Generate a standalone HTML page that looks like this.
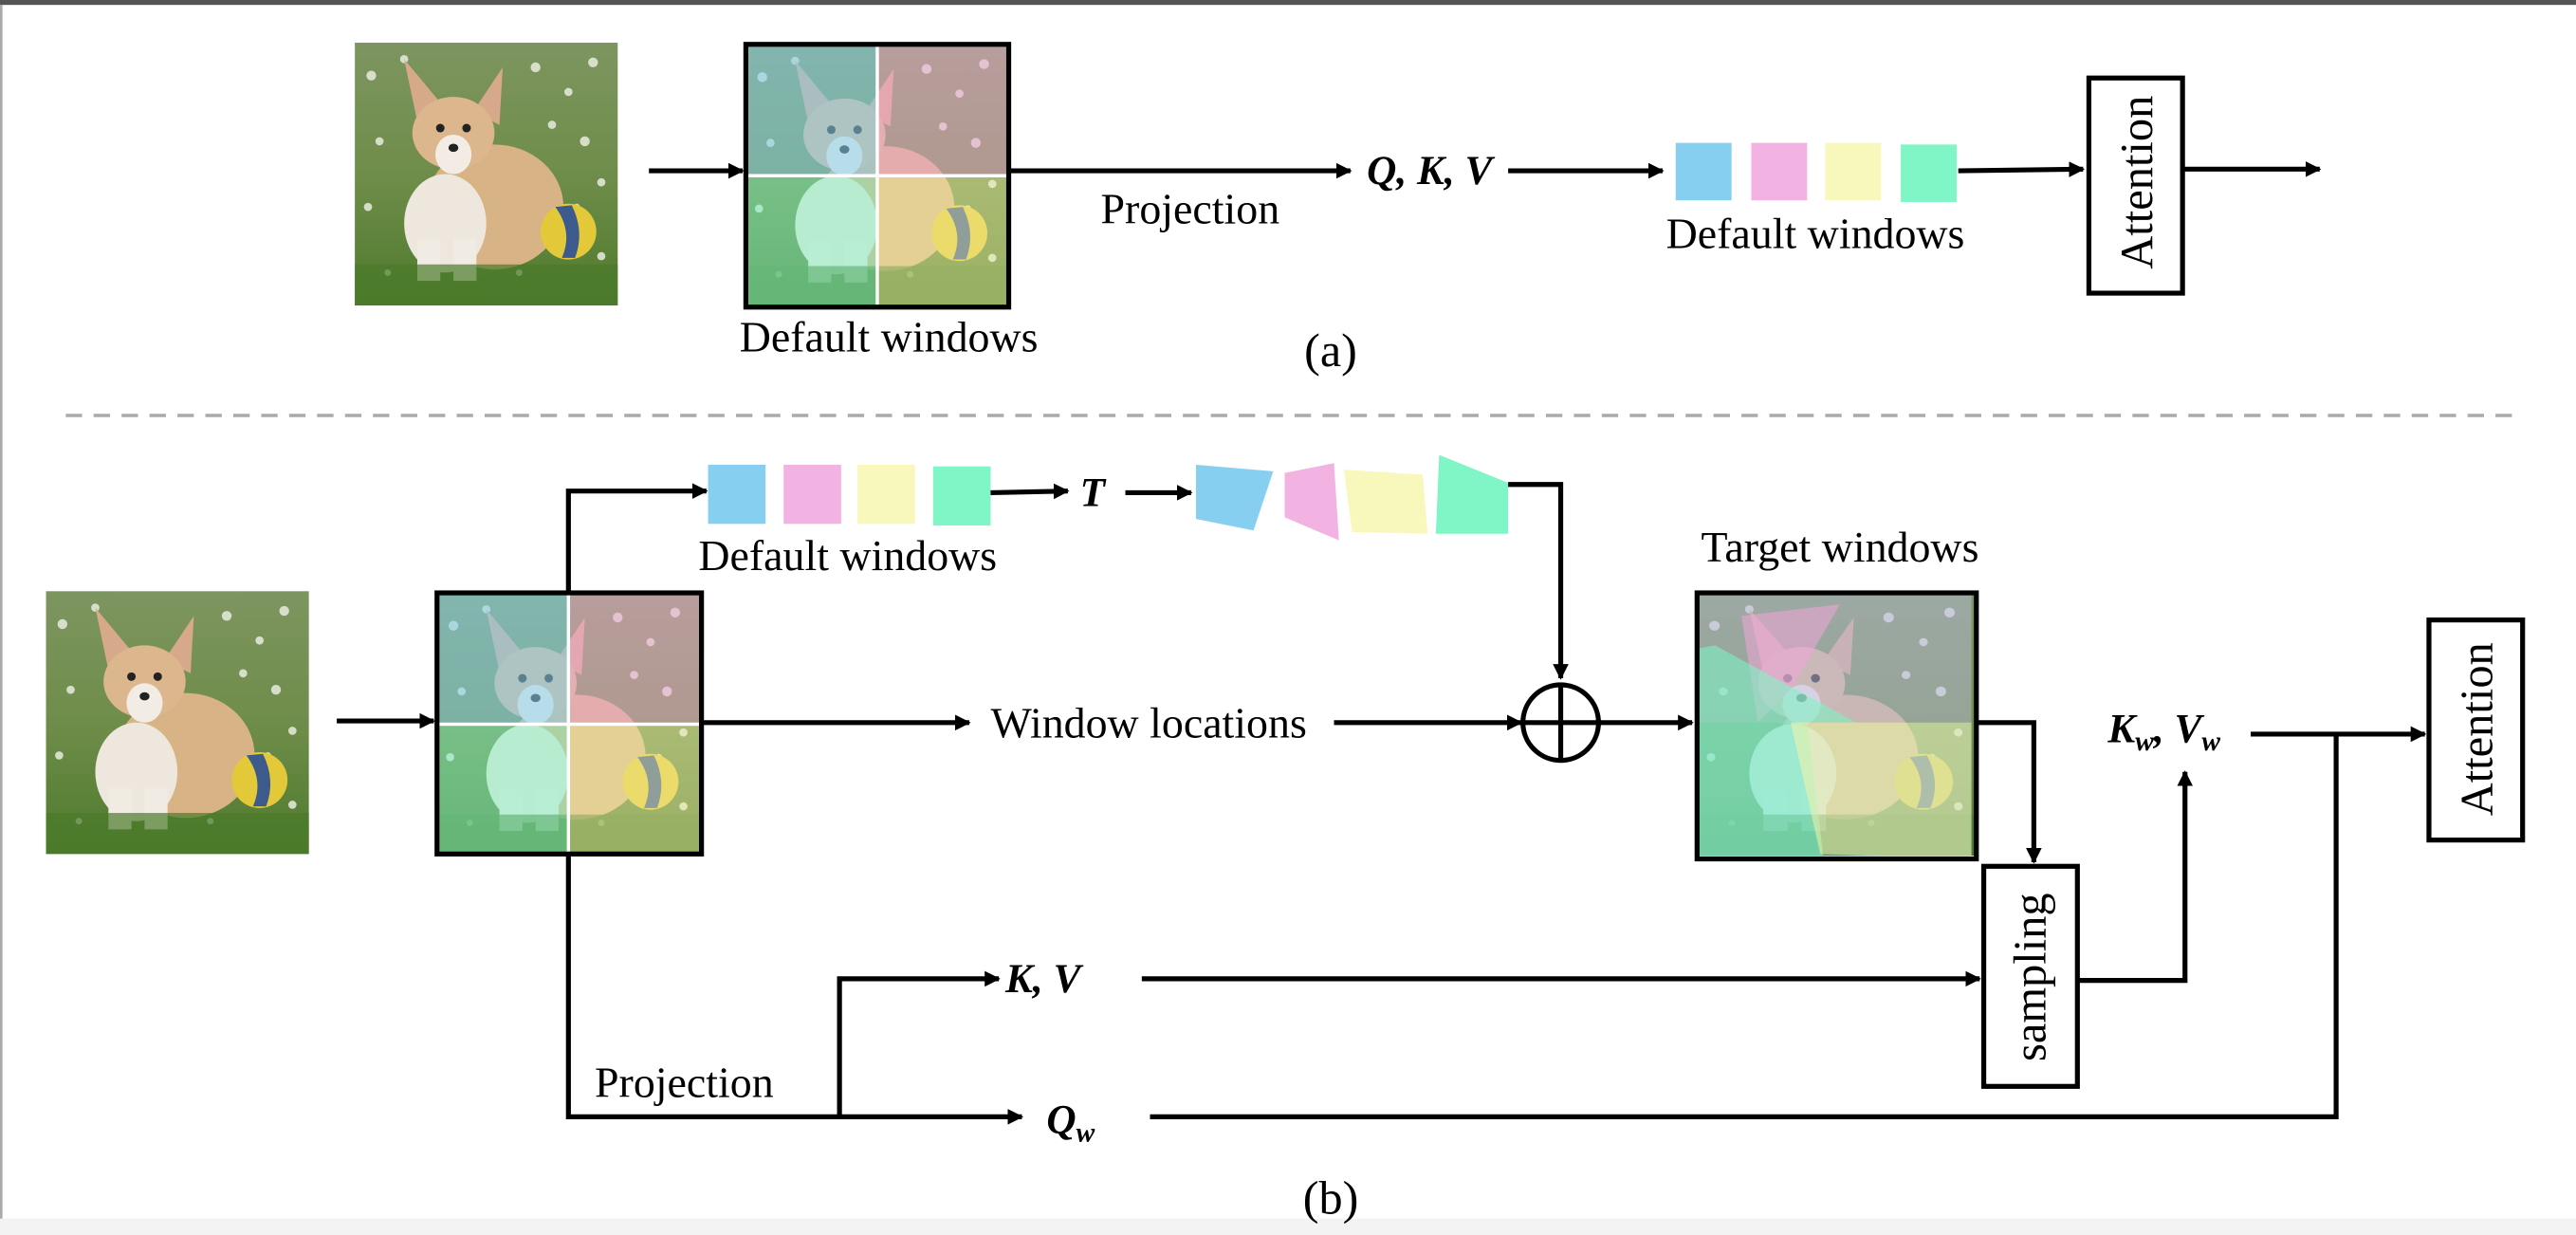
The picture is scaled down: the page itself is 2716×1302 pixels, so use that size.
<!DOCTYPE html>
<html><head><meta charset="utf-8"><style>
html,body{margin:0;padding:0;background:#fff;}
svg{display:block;}
text{font-family:"Liberation Serif",serif;fill:#000;}
.m{font-weight:bold;font-style:italic;}
</style></head><body>
<svg width="2716" height="1302" viewBox="0 0 1568 752" preserveAspectRatio="none" xmlns="http://www.w3.org/2000/svg">
<defs>
<marker id="a" viewBox="0 0 10 10" refX="9" refY="5" markerWidth="3.2" markerHeight="3.2" orient="auto"><path d="M0,0 L10,5 L0,10 z" fill="#000"/></marker>
<linearGradient id="bg" x1="0" y1="0" x2="0" y2="1"><stop offset="0" stop-color="#7d9560"/><stop offset="0.5" stop-color="#6f8d4a"/><stop offset="1" stop-color="#4e7a2c"/></linearGradient>
<g id="dog">
<rect x="0" y="0" width="160" height="160" fill="url(#bg)"/>
<g fill="#e8ece0" opacity="0.85">
<circle cx="10" cy="20" r="3"/><circle cx="30" cy="10" r="2.5"/><circle cx="110" cy="15" r="3"/><circle cx="130" cy="30" r="2.5"/><circle cx="145" cy="12" r="3"/><circle cx="120" cy="50" r="2.5"/><circle cx="140" cy="60" r="3"/><circle cx="150" cy="85" r="2.5"/><circle cx="105" cy="70" r="2"/><circle cx="15" cy="60" r="2.5"/><circle cx="8" cy="100" r="2.5"/><circle cx="150" cy="130" r="2.5"/><circle cx="20" cy="140" r="2"/><circle cx="100" cy="140" r="2"/><circle cx="135" cy="100" r="2"/>
</g>
<path d="M30,10 L38,48 L55,40 z" fill="#d6a98a"/>
<path d="M90,15 L72,42 L88,50 z" fill="#d6a98a"/>
<ellipse cx="85" cy="100" rx="42" ry="38" fill="#d8b385"/>
<ellipse cx="60" cy="55" rx="25" ry="22" fill="#dcb68c"/>
<ellipse cx="60" cy="68" rx="11" ry="12" fill="#f2ece4"/>
<ellipse cx="55" cy="110" rx="25" ry="30" fill="#eee7dd"/>
<rect x="38" y="120" width="14" height="25" fill="#f0ebe3"/><rect x="60" y="120" width="14" height="25" fill="#f0ebe3"/>
<circle cx="52" cy="52" r="2.6" fill="#222"/><circle cx="68" cy="52" r="2.6" fill="#222"/><ellipse cx="60" cy="64" rx="3" ry="2.5" fill="#222"/>
<circle cx="130" cy="115" r="17" fill="#e3c93a"/>
<path d="M122,100 Q133,115 126,131 L134,131 Q140,115 132,99 z" fill="#3c5a8c"/>
<rect x="0" y="135" width="160" height="25" fill="#4a7a2a" opacity="0.7"/>
</g>
<g id="win">
<use href="#dog"/>
<rect x="0" y="0" width="80" height="80" fill="#87cfee" opacity="0.55"/>
<rect x="80" y="0" width="80" height="80" fill="#f2a6d8" opacity="0.5"/>
<rect x="0" y="80" width="80" height="80" fill="#7ff2c4" opacity="0.5"/>
<rect x="80" y="80" width="80" height="80" fill="#f5f2a8" opacity="0.45"/>
<line x1="80" y1="0" x2="80" y2="160" stroke="#fff" stroke-width="2"/>
<line x1="0" y1="80" x2="160" y2="80" stroke="#fff" stroke-width="2"/>
</g>
</defs>
<rect x="0" y="0" width="1568" height="3" fill="#555"/>
<rect x="0" y="3" width="1.5" height="740" fill="#aaa"/>
<rect x="0" y="742" width="1568" height="10" fill="#f3f3f3"/>

<!-- (a) -->
<use href="#dog" transform="translate(216,26)"/>
<line x1="395" y1="104" x2="452" y2="104" stroke="#000" stroke-width="3" marker-end="url(#a)"/>
<use href="#win" transform="translate(454,27)"/>
<rect x="454" y="27" width="160" height="160" fill="none" stroke="#000" stroke-width="3"/>
<text x="541" y="214" font-size="26.5" text-anchor="middle">Default windows</text>
<line x1="614" y1="104" x2="822" y2="104" stroke="#000" stroke-width="3" marker-end="url(#a)"/>
<text x="670" y="136" font-size="26.5">Projection</text>
<text x="832" y="112" font-size="25" class="m">Q, K, V</text>
<line x1="918" y1="104" x2="1012" y2="104" stroke="#000" stroke-width="3" marker-end="url(#a)"/>
<rect x="1020" y="87" width="34" height="35" fill="#86cff0"/>
<rect x="1066" y="87" width="34" height="35" fill="#f2b2e2"/>
<rect x="1111" y="87" width="34" height="35" fill="#f8f8bc"/>
<rect x="1157" y="88" width="34" height="35" fill="#80f5c6"/>
<text x="1105" y="151" font-size="26.5" text-anchor="middle">Default windows</text>
<line x1="1192" y1="104" x2="1268" y2="103" stroke="#000" stroke-width="3" marker-end="url(#a)"/>
<rect x="1271.5" y="47.5" width="57" height="131" fill="#fff" stroke="#000" stroke-width="3"/>
<text transform="translate(1310,111) rotate(-90)" font-size="28" text-anchor="middle">Attention</text>
<line x1="1329" y1="103" x2="1412" y2="103" stroke="#000" stroke-width="3" marker-end="url(#a)"/>
<text x="810" y="223" font-size="29" text-anchor="middle">(a)</text>

<line x1="40" y1="253" x2="1530" y2="253" stroke="#aaa" stroke-width="2" stroke-dasharray="10,7"/>

<!-- (b) -->
<use href="#dog" transform="translate(28,360)"/>
<line x1="205" y1="439" x2="264" y2="439" stroke="#000" stroke-width="3" marker-end="url(#a)"/>
<use href="#win" transform="translate(266,361)"/>
<rect x="266" y="361" width="161" height="159" fill="none" stroke="#000" stroke-width="3"/>
<polyline points="346,360 346,299 430,299" fill="none" stroke="#000" stroke-width="3" marker-end="url(#a)"/>
<rect x="431" y="283" width="35" height="36" fill="#86cff0"/>
<rect x="477" y="283" width="35" height="36" fill="#f2b2e2"/>
<rect x="522" y="283" width="35" height="36" fill="#f8f8bc"/>
<rect x="568" y="284" width="35" height="36" fill="#80f5c6"/>
<text x="516" y="347" font-size="26.5" text-anchor="middle">Default windows</text>
<line x1="603" y1="300" x2="650" y2="299" stroke="#000" stroke-width="3" marker-end="url(#a)"/>
<text x="665" y="308" font-size="25" class="m" text-anchor="middle">T</text>
<line x1="685" y1="300" x2="725" y2="300" stroke="#000" stroke-width="3" marker-end="url(#a)"/>
<polygon points="728,283 775,287 763,323 728,316" fill="#86cff0"/>
<polygon points="782,288 812,282 815,329 782,315" fill="#f2b2e2"/>
<polygon points="818,286 866,289 869,325 823,324" fill="#f8f8bc"/>
<polygon points="876,277 918,294 918,325 874,325" fill="#80f5c6"/>
<polyline points="918,295 950,295 950,413" fill="none" stroke="#000" stroke-width="3" marker-end="url(#a)"/>
<circle cx="950" cy="440" r="23" fill="none" stroke="#000" stroke-width="3"/>
<line x1="927" y1="440" x2="973" y2="440" stroke="#000" stroke-width="3"/>
<line x1="950" y1="417" x2="950" y2="463" stroke="#000" stroke-width="3"/>
<line x1="428" y1="440" x2="590" y2="440" stroke="#000" stroke-width="3" marker-end="url(#a)"/>
<text x="603" y="449" font-size="26.5">Window locations</text>
<line x1="812" y1="440" x2="926" y2="440" stroke="#000" stroke-width="3" marker-end="url(#a)"/>
<line x1="973" y1="440" x2="1030" y2="440" stroke="#000" stroke-width="3" marker-end="url(#a)"/>
<text x="1120" y="342" font-size="26.5" text-anchor="middle">Target windows</text>
<g transform="translate(1033,361) scale(1.06,1.0)"><use href="#dog"/></g>
<polygon points="1033,361 1200,362 1200,523 1033,523" fill="#87cfee" opacity="0.35"/>
<polygon points="1033,361 1200,362 1200,440 1033,440" fill="#f2a6d8" opacity="0.25"/>
<polygon points="1060,375 1120,368 1090,420 1070,440" fill="#f2a6d8" opacity="0.55"/>
<polygon points="1044,393 1130,440 1100,440 1110,523 1033,523 1033,395" fill="#7ff2c4" opacity="0.6"/>
<polygon points="1090,440 1200,440 1200,523 1108,520" fill="#f5f2a8" opacity="0.55"/>
<rect x="1033" y="361" width="170" height="162" fill="none" stroke="#000" stroke-width="3"/>
<polyline points="1203,440 1238,440 1238,525" fill="none" stroke="#000" stroke-width="3" marker-end="url(#a)"/>
<rect x="1207.5" y="527.5" width="57" height="134" fill="#fff" stroke="#000" stroke-width="3"/>
<text transform="translate(1245,595) rotate(-90)" font-size="28" text-anchor="middle">sampling</text>
<text x="1283" y="452" font-size="25" class="m">K<tspan font-size="17" dy="5">w</tspan><tspan dy="-5">, V</tspan><tspan font-size="17" dy="5">w</tspan></text>
<polyline points="1265,597 1330,597 1330,470" fill="none" stroke="#000" stroke-width="3" marker-end="url(#a)"/>
<line x1="1370" y1="447" x2="1476" y2="447" stroke="#000" stroke-width="3" marker-end="url(#a)"/>
<polyline points="1422,447 1422,680 700,680" fill="none" stroke="#000" stroke-width="3"/>
<rect x="1478.5" y="377.5" width="57" height="134" fill="#fff" stroke="#000" stroke-width="3"/>
<text transform="translate(1517,444) rotate(-90)" font-size="28" text-anchor="middle">Attention</text>
<text x="612" y="604" font-size="25" class="m">K, V</text>
<line x1="695" y1="596" x2="1205" y2="596" stroke="#000" stroke-width="3" marker-end="url(#a)"/>
<polyline points="346,520 346,680 622,680" fill="none" stroke="#000" stroke-width="3" marker-end="url(#a)"/>
<polyline points="511,680 511,596 608,596" fill="none" stroke="#000" stroke-width="3" marker-end="url(#a)"/>
<text x="362" y="668" font-size="26.5">Projection</text>
<text x="637" y="690" font-size="25" class="m">Q<tspan font-size="17" dy="5">w</tspan></text>
<text x="810" y="739" font-size="29" text-anchor="middle">(b)</text>
</svg>
</body></html>
